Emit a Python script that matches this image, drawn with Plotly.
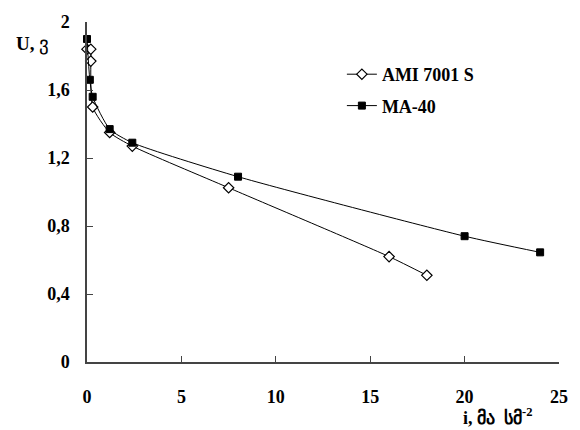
import plotly.graph_objects as go

# Current density, mA/cm^2, and voltage, V
ami_i = [0.0, 0.2, 0.2, 0.3, 1.2, 2.4, 7.5, 16.0, 18.0]
ami_u = [1.84, 1.84, 1.77, 1.50, 1.35, 1.27, 1.025, 0.62, 0.51]

ma_i = [0.0, 0.15, 0.3, 1.2, 2.4, 8.0, 20.0, 24.0]
ma_u = [1.90, 1.66, 1.56, 1.37, 1.29, 1.09, 0.74, 0.645]

y_ticks = [0, 0.4, 0.8, 1.2, 1.6, 2]
y_tick_text = ["0", "0,4", "0,8", "1,2", "1,6", "2"]
x_ticks = [0, 5, 10, 15, 20, 25]
x_tick_text = ["0", "5", "10", "15", "20", "25"]

tick_font = dict(family="Liberation Serif", size=18, color="black")

fig = go.Figure()
fig.add_trace(go.Scatter(
    x=ami_i, y=ami_u, name="<b>AMI 7001 S</b>", legendgroup="a",
    mode="lines+markers", line=dict(color="black", width=1, shape="spline", smoothing=0.6),
    marker=dict(symbol="diamond", size=8, color="white", line=dict(color="black", width=1.2)),
    cliponaxis=False,
))
fig.add_trace(go.Scatter(
    x=ma_i, y=ma_u, name="<b>MA-40</b>", legendgroup="b",
    mode="lines+markers", line=dict(color="black", width=1, shape="spline", smoothing=0.6),
    marker=dict(symbol="square", size=7, color="black", line=dict(color="black", width=1)),
    cliponaxis=False,
))

axis_common = dict(
    showgrid=False, zeroline=False, showline=True, linecolor="#444444", linewidth=1.5,
    ticks="inside", ticklen=6, tickcolor="#444444", tickwidth=1.2,
    tickfont=tick_font,
)

fig.update_layout(
    width=580, height=430,
    margin=dict(l=87, r=16, t=14, b=68),
    paper_bgcolor="white", plot_bgcolor="white",
    showlegend=True,
    legend=dict(
        x=0.54, y=0.9, xanchor="left", yanchor="top",
        font=dict(family="Liberation Serif", size=18, color="black"),
        bgcolor="rgba(0,0,0,0)", tracegroupgap=5,
    ),
    xaxis=dict(range=[0, 25], tickvals=x_ticks, ticktext=[f"<b>{t}</b>" for t in x_tick_text],
               ticklabelstandoff=18, **axis_common),
    yaxis=dict(range=[0, 2], tickvals=y_ticks, ticktext=[f"<b>{t}</b>" for t in y_tick_text],
               ticklabelstandoff=12, **axis_common),
    annotations=[
        dict(text="<b>U,</b> ვ", xref="paper", yref="paper", x=-0.155, y=0.935,
             xanchor="left", yanchor="middle", showarrow=False,
             font=dict(family="Liberation Serif", size=19, color="black")),
        dict(text="<b>i, მა  სმ<sup>-2</sup></b>", xref="paper", yref="paper", x=0.87, y=-0.16,
             xanchor="center", yanchor="middle", showarrow=False,
             font=dict(family="Liberation Serif", size=18, color="black")),
    ],
)

fig.write_html("out.html")
